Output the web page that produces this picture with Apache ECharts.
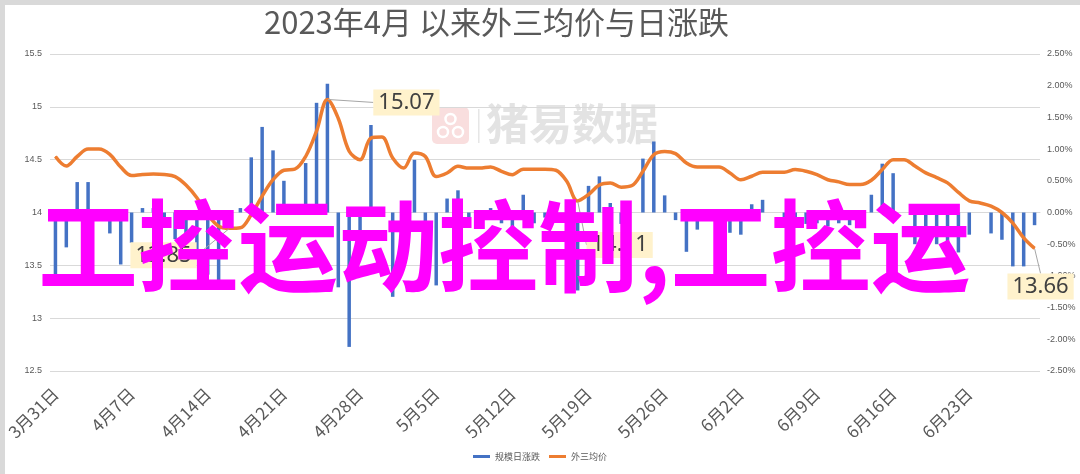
<!DOCTYPE html>
<html>
<head>
<meta charset="utf-8">
<script src="https://cdn.jsdelivr.net/npm/echarts@6/dist/echarts.min.js"></script>
<style>html,body{margin:0;padding:0;background:#fff}#c{width:1080px;height:474px}</style>
</head>
<body>
<div id="c"></div>
<script>
const categories = [
'3月31日',
'4月1日','4月2日','4月3日','4月4日','4月5日','4月6日','4月7日','4月8日','4月9日','4月10日',
'4月11日','4月12日','4月13日','4月14日','4月15日','4月16日','4月17日','4月18日','4月19日','4月20日',
'4月21日','4月22日','4月23日','4月24日','4月25日','4月26日','4月27日','4月28日','4月29日','4月30日',
'5月1日','5月2日','5月3日','5月4日','5月5日','5月6日','5月7日','5月8日','5月9日','5月10日',
'5月11日','5月12日','5月13日','5月14日','5月15日','5月16日','5月17日','5月18日','5月19日','5月20日',
'5月21日','5月22日','5月23日','5月24日','5月25日','5月26日','5月27日','5月28日','5月29日','5月30日','5月31日',
'6月1日','6月2日','6月3日','6月4日','6月5日','6月6日','6月7日','6月8日','6月9日','6月10日',
'6月11日','6月12日','6月13日','6月14日','6月15日','6月16日','6月17日','6月18日','6月19日','6月20日',
'6月21日','6月22日','6月23日','6月24日','6月25日','6月26日','6月27日','6月28日','6月29日'
];
// 规模日涨跌 (%)
const scaleChange = [
-1.00,
-0.55,0.48,0.48,0,-0.33,-0.82,-0.48,0.07,0.07,-0.08,
-0.42,-0.50,-0.70,-0.98,-1.08,0,0.07,0.87,1.35,0.98,
0.50,0,0.78,1.73,2.03,-1.18,-2.12,-0.32,1.38,0.07,
-1.33,-0.58,0.83,-1.05,-1.15,0.22,0.35,-0.12,0,0.07,
-0.17,-0.25,0.28,-0.17,-0.08,0,-0.28,-1.23,0.42,0.57,
0.15,-0.18,0,0.85,1.12,0.27,-0.12,-0.62,-0.27,0,-0.08,
-0.32,-0.35,0.13,0.20,0,-0.13,-0.17,-0.18,-0.17,-0.22,
-0.17,-0.20,0,0.28,0.77,0.62,0,-0.50,-0.58,-0.50,
-0.58,-0.63,-0.35,0,-0.33,-0.43,-0.85,-0.85,-0.20
];
// 外三均价
const avgPrice = [
14.53,
14.44,14.53,14.60,14.60,14.55,14.43,14.35,14.36,14.365,14.36,
14.34,14.26,14.14,13.98,13.87,13.85,13.855,13.98,14.155,14.31,
14.40,14.41,14.53,14.77,15.07,14.89,14.58,14.50,14.705,14.714,
14.516,14.42,14.563,14.53,14.34,14.374,14.437,14.42,14.42,14.43,
14.39,14.358,14.41,14.41,14.41,14.40,14.295,14.11,14.17,14.26,
14.28,14.24,14.255,14.39,14.547,14.578,14.557,14.469,14.43,14.43,14.43,
14.374,14.31,14.343,14.38,14.38,14.38,14.406,14.39,14.358,14.31,
14.29,14.264,14.264,14.305,14.406,14.50,14.50,14.44,14.375,14.33,
14.28,14.19,14.11,14.09,14.06,14.00,13.90,13.76,13.66
];
const leftTicks = [12.5, 15.5, 0.5];
const rightTicks = [-2.5, 2.5, 0.5];
const labelledPoints = [16, 25, 48, 90];
const labelShift = {16:[-66,27], 25:[79,3], 48:[42,44], 90:[6,38]};

const chart = echarts.init(document.getElementById('c'));
const lineData = avgPrice.map((v,i)=> labelledPoints.includes(i) ? {value:v, label:{show:true}} : v);
const axisColor = '#595959';
chart.setOption({
  animation:false,
  backgroundColor:'#ffffff',
  title:{text:'2023年4月 以来外三均价与日涨跌', left:259, top:2,
    textStyle:{fontSize:31, fontWeight:'normal', color:'#595959', fontFamily:'Noto Sans CJK SC'}},
  legend:{bottom:8, left:'center', itemWidth:17, itemHeight:3, itemGap:9, icon:'rect',
    textStyle:{fontSize:9, color:'#595959', fontFamily:'Noto Sans CJK SC'},
    data:['规模日涨跌','外三均价']},
  grid:{left:50, right:40, top:54, bottom:103},
  xAxis:{type:'category', data:categories, boundaryGap:true,
    axisLine:{lineStyle:{color:'#d9d9d9'}},
    axisTick:{interval:6, length:5, lineStyle:{color:'#d9d9d9'}},
    axisLabel:{interval:6, rotate:45, fontSize:17, color:axisColor, margin:20, fontFamily:'Noto Sans CJK SC'}},
  yAxis:[
    {type:'value', min:leftTicks[0], max:leftTicks[1], interval:leftTicks[2],
      axisLabel:{fontSize:9, color:axisColor, margin:8},
      splitLine:{lineStyle:{color:'#d9d9d9'}}, axisLine:{show:false}, axisTick:{show:false}},
    {type:'value', min:rightTicks[0], max:rightTicks[1], interval:rightTicks[2],
      axisLabel:{fontSize:9, color:axisColor, margin:7, formatter:v=>v.toFixed(2)+'%'},
      splitLine:{show:false}, axisLine:{show:false}, axisTick:{show:false}}
  ],
  series:[
    {name:'规模日涨跌', type:'bar', yAxisIndex:1, data:scaleChange, barWidth:3.5,
      itemStyle:{color:'#4472C4'}, z:2},
    {name:'外三均价', type:'line', yAxisIndex:0, data:lineData, smooth:0.35, symbol:'circle', symbolSize:1,
      showSymbol:true, lineStyle:{color:'#ED7D31', width:3.5}, itemStyle:{color:'#ED7D31'}, z:3,
      label:{show:false, position:'inside', fontSize:22, color:'#404040', backgroundColor:'#FFF2CC',
        padding:[3,5,1,5], fontFamily:'Noto Sans'},
      labelLine:{show:true, lineStyle:{color:'#a6a6a6', width:1}},
      labelLayout:function(p){ const s = labelShift[p.dataIndex]; return s ? {dx:s[0], dy:s[1]} : {}; }}
  ],
  graphic:[
    {type:'rect', left:0, top:0, shape:{width:1080, height:474}, style:{fill:'none', stroke:'#d9d9d9', lineWidth:5}, silent:true, z:-1},
    {type:'group', left:432, top:102, z:1, children:[
      {type:'rect', shape:{x:0,y:0,width:37,height:37,r:5}, style:{fill:'#f9dede'}},
      {type:'circle', shape:{cx:18.5,cy:12,r:5}, style:{fill:'none', stroke:'#ffffff', lineWidth:2.5}},
      {type:'circle', shape:{cx:11,cy:25,r:5}, style:{fill:'none', stroke:'#ffffff', lineWidth:2.5}},
      {type:'circle', shape:{cx:26,cy:25,r:5}, style:{fill:'none', stroke:'#ffffff', lineWidth:2.5}},
      {type:'rect', shape:{x:46,y:2,width:1.5,height:34}, style:{fill:'#e6e6e6'}},
      {type:'text', x:54, y:-5, style:{text:'猪易数据', fontSize:43, fontWeight:'bold', fill:'#e3e3e3', fontFamily:'Noto Sans CJK SC'}}
    ]},
    {type:'text', left:38, top:196, z:100, style:{text:'工控运动控制,工控运', fontSize:100, fontWeight:'bold',
      fill:'#FF00FF', fontFamily:'Noto Sans CJK SC'}}
  ]
});
</script>
</body>
</html>
